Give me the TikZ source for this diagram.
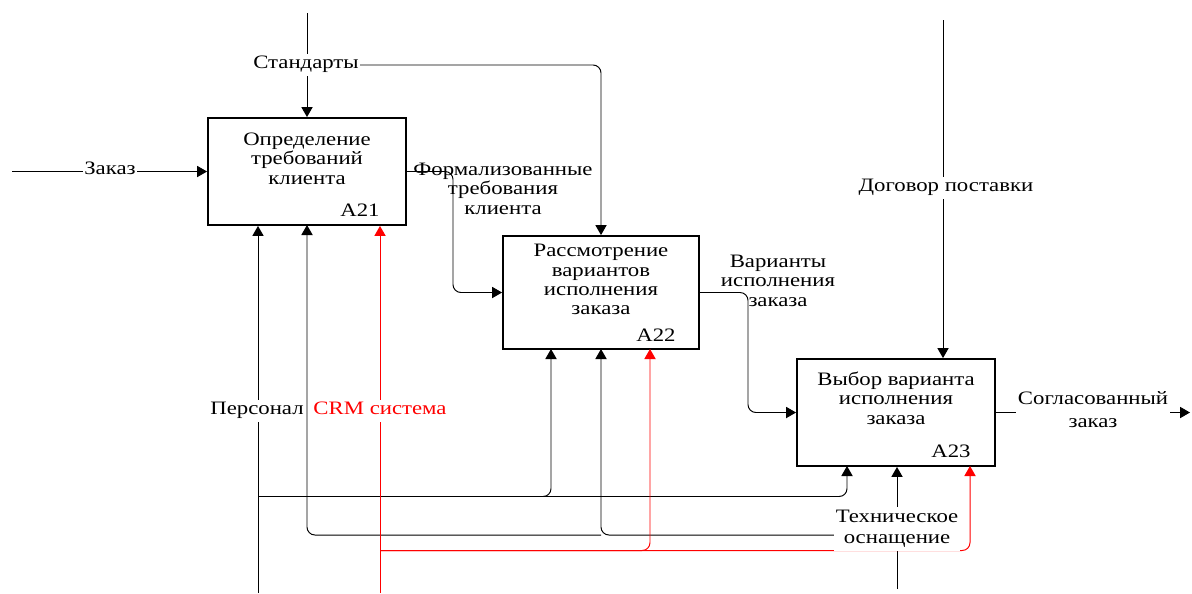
\documentclass[tikz,border=0pt]{standalone}
\usepackage{fontspec}
\setmainfont{Liberation Serif}
\usepackage{graphicx}
\usetikzlibrary{arrows.meta}

% horizontally widened, centred multi-line text
\newcommand{\widetext}[1]{\scalebox{1.2}[1]{\begin{tabular}{@{}c@{}}#1\end{tabular}}}

\begin{document}
\begin{tikzpicture}[x=0.02cm,y=-0.02cm,
  font=\fontsize{10.8}{11}\selectfont,
  func/.style={draw, line width=1.1pt, inner sep=0pt},
  link/.style={line width=0.55pt, rounded corners=4.5pt},
  arr/.style={link, -{Triangle[length=5.7pt,width=6.4pt]}},
  lbl/.style={inner sep=1pt, fill=white},
  bare/.style={inner sep=1pt},
  crm/.style={red}]
\useasboundingbox (0,0) rectangle (1192,593);

% function blocks
\node[func, minimum width=3.96cm, minimum height=2.14cm] (A21) at (307,171.5) {};
\node[func, minimum width=3.92cm, minimum height=2.26cm] (A22) at (601,292.5) {};
\node[func, minimum width=3.96cm, minimum height=2.14cm] (A23) at (896,412.5) {};

\node (t21) at (307,161) {\widetext{Определение\\требований\\клиента}};
\node (t22) at (601,282) {\widetext{Рассмотрение\\вариантов\\исполнения\\заказа}};
\node (t23) at (896,401) {\widetext{Выбор варианта\\исполнения\\заказа}};
\node (n21) at (360,213) {\widetext{A21}};
\node (n22) at (656,338) {\widetext{A22}};
\node (n23) at (951,454) {\widetext{A23}};

% free ends of the boundary arrows
\coordinate (inZ) at (12,171.5);
\coordinate (ctS) at (307,13);
\coordinate (ctD) at (943,20);
\coordinate (outS) at (1190,412.5);
\coordinate (mP) at (258,593);
\coordinate (mC) at (380,593);
\coordinate (mT) at (897,589);

% input
\draw[arr] (inZ) -- (A21.west);
% controls
\draw[arr] (ctS) -- (A21.north);
\draw[arr] (307,65) -- (601,65) -- (A22.north);
\draw[arr] (ctD) -- (ctD |- A23.north);
% outputs
\draw[arr] (A21.east) -- (453,171.5) -- (453,292.5) -- (A22.west);
\draw[arr] (A22.east) -- (748,292.5) -- (748,412.5) -- (A23.west);
\draw[arr] (A23.east) -- (outS);
% mechanisms: staff
\draw[arr] (mP) -- (mP |- A21.south);
\draw[arr] (258,496.5) -- (847,496.5) -- (847,466);
\draw[arr] (258,496.5) -- (551,496.5) -- (551,349);
% mechanisms: technical equipment
\draw[arr] (mT) -- (mT |- A23.south);
\draw[arr] (897,535) -- (601,535) -- (601,349);
\draw[arr] (601,535) -- (307,535) -- (307,225);
% mechanisms: CRM
\draw[arr, crm] (mC) -- (mC |- A21.south);
\draw[arr, crm] (380,550.5) -- (970,550.5) -- (970,466);
\draw[arr, crm] (380,550.5) -- (650,550.5) -- (650,349);

% arrow labels
\node[lbl] (lZ) at (110,171) {\widetext{Заказ}};
\node[lbl] (lS) at (306,65) {\widetext{Стандарты}};
\node[bare] (lF) at (503,191) {\widetext{Формализованные\\требования\\клиента}};
\node[bare] (lV) at (778,283) {\widetext{Варианты\\исполнения\\заказа}};
\node[lbl] (lD) at (946,188) {\widetext{Договор поставки}};
\node[lbl] (lO) at (1093,412) {\widetext{Согласованный\\[2pt]заказ}};
\node[lbl] (lP) at (257,411) {\widetext{Персонал}};
\node[lbl, text=red] (lC) at (380,411) {\widetext{CRM система}};
\node[lbl] (lT) at (897,529) {\widetext{Техническое\\[1pt]оснащение}};
\end{tikzpicture}
\end{document}
